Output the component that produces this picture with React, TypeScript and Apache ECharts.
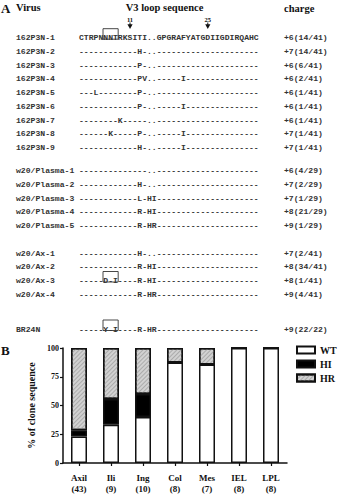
import React, { useEffect, useRef } from "react";
import * as echarts from "echarts";

// ---------- Panel A data ----------
const virusNames = [
  "162P3N-1", "162P3N-2", "162P3N-3", "162P3N-4", "162P3N-5", "162P3N-6", "162P3N-7", "162P3N-8", "162P3N-9",
  "w20/Plasma-1", "w20/Plasma-2", "w20/Plasma-3", "w20/Plasma-4", "w20/Plasma-5",
  "w20/Ax-1", "w20/Ax-2", "w20/Ax-3", "w20/Ax-4",
  "BR24N",
];
const sequences = [
  "CTRPNNNTRKSITI..GPGRAFYATGDIIGDIRQAHC",
  "------------H-..---------------------",
  "------------P-..---------------------",
  "------------PV..-----I---------------",
  "---L--------P-..---------------------",
  "------------P-..-----I---------------",
  "--------K-----..---------------------",
  "------K-----P-..-----I---------------",
  "------------H-..-----I---------------",
  "--------------..---------------------",
  "------------H-..---------------------",
  "------------L-HI---------------------",
  "------------R-HI---------------------",
  "------------R-HR---------------------",
  "------------H-..---------------------",
  "------------R-HI---------------------",
  "-----D-I----R-HI---------------------",
  "------------R-HR---------------------",
  "-----Y-I----R-HR---------------------",
];
const charges = [
  "+6(14/41)", "+7(14/41)", "+6(6/41)", "+6(2/41)", "+6(1/41)", "+6(1/41)", "+6(1/41)", "+7(1/41)", "+7(1/41)",
  "+6(4/29)", "+7(2/29)", "+7(1/29)", "+8(21/29)", "+9(1/29)",
  "+7(2/41)", "+8(34/41)", "+8(1/41)", "+9(4/41)",
  "+9(22/22)",
];
const groupSizes = [9, 5, 4, 1];
// boxed residues: [row, first char index, last char index]
const boxedSpans = [
  [0, 5, 7],
  [16, 5, 7],
  [18, 5, 7],
];
// position markers: [label, char index]
const markers: [string, number][] = [
  ["11", 10],
  ["25", 26],
];

// ---------- Panel B data ----------
const categories = ["Axil\n(43)", "Ili\n(9)", "Ing\n(10)", "Col\n(8)", "Mes\n(7)", "IEL\n(8)", "LPL\n(8)"];
const wtValues = [23, 33.3, 40, 87.5, 85.7, 100, 100];
const hiValues = [5.5, 22.3, 20, 0, 0, 0, 0];
const hrValues = [71.5, 44.4, 40, 12.5, 14.3, 0, 0];
const yTicks = [0, 25, 50, 75, 100];

const SERIF = '"Liberation Serif", "Times New Roman", serif';
const MONO = '"Liberation Mono", "Courier New", monospace';

function buildGraphics() {
  const els: any[] = [];
  const nameX = 16;
  const seqX = 79;
  const chargeX = 284;
  const charW = 4.86;
  const seqFontSize = 8.1;
  const groupStartY = [37.7, 170.5, 253, 329];
  const rowPitch = 13.75;
  const rowY: number[] = [];
  let r = 0;
  groupSizes.forEach((n, g) => {
    for (let i = 0; i < n; i++) {
      rowY[r++] = groupStartY[g] + i * rowPitch;
    }
  });

  const headerStyle = (text: string, x: number, y: number, size: number, align = "left") => ({
    type: "text",
    style: {
      text,
      x,
      y,
      fontFamily: SERIF,
      fontWeight: "bold",
      fontSize: size,
      fill: "#111",
      align,
      verticalAlign: "middle",
    },
  });

  els.push(headerStyle("A", 1, 8, 13));
  els.push(headerStyle("Virus", 16, 7.5, 10.5));
  els.push(headerStyle("V3 loop sequence", 164.5, 7.5, 10.5, "center"));
  els.push(headerStyle("charge", 284, 8, 10.5));
  els.push(headerStyle("B", 1, 350, 13));

  markers.forEach(([label, idx]) => {
    const x = seqX + (idx + 0.5) * charW;
    els.push(headerStyle(label, x, 19.5, 6.5, "center"));
    els.push({
      type: "line",
      shape: { x1: x, y1: 22.5, x2: x, y2: 25 },
      style: { stroke: "#111", lineWidth: 1 },
    });
    els.push({
      type: "polygon",
      shape: { points: [[x - 2.6, 24.2], [x + 2.6, 24.2], [x, 29]] },
      style: { fill: "#111" },
    });
  });

  for (let i = 0; i < virusNames.length; i++) {
    const y = rowY[i];
    const base = {
      fontFamily: MONO,
      fontWeight: "bold",
      fontSize: seqFontSize,
      fill: "#333",
      verticalAlign: "middle",
      align: "left",
    };
    els.push({ type: "text", style: { ...base, text: virusNames[i], x: nameX, y } });
    els.push({ type: "text", style: { ...base, text: sequences[i], x: seqX, y } });
    els.push({ type: "text", style: { ...base, text: charges[i], x: chargeX, y } });
  }

  boxedSpans.forEach(([row, a, b]) => {
    const y = rowY[row];
    els.push({
      type: "rect",
      shape: { x: seqX + a * charW - 0.3, y: y - 9, width: (b - a + 1) * charW + 0.6, height: 10.5 },
      style: { fill: "none", stroke: "#333", lineWidth: 0.9 },
    });
  });

  return els;
}

export default function App() {
  const ref = useRef<HTMLDivElement>(null);
  useEffect(() => {
    if (!ref.current) return;
    const chart = echarts.init(ref.current, null, { renderer: "svg" });
    const barBase = {
      type: "bar",
      stack: "total",
      barWidth: 16,
    };
    chart.setOption({
      animation: false,
      backgroundColor: "#ffffff",
      graphic: { elements: buildGraphics() },
      legend: {
        left: 296,
        top: 345,
        padding: 0,
        orient: "vertical",
        itemWidth: 18,
        itemHeight: 7,
        itemGap: 4,
        icon: "rect",
        textStyle: { fontFamily: SERIF, fontWeight: "bold", fontSize: 10, color: "#111" },
        data: ["WT", "HI", "HR"],
      },
      grid: { left: 63, top: 348, width: 224, height: 124 },
      xAxis: {
        type: "category",
        data: categories,
        axisLine: { show: true, lineStyle: { color: "#111", width: 1.5 } },
        axisTick: { show: true, alignWithLabel: true, length: 3, lineStyle: { color: "#111", width: 1.2 } },
        axisLabel: {
          fontFamily: SERIF,
          fontWeight: "bold",
          fontSize: 9,
          color: "#111",
          lineHeight: 11,
          margin: 9,
        },
      },
      yAxis: {
        type: "value",
        min: yTicks[0],
        max: yTicks[yTicks.length - 1],
        interval: 25,
        name: "% of clone sequence",
        nameLocation: "middle",
        nameRotate: 90,
        nameGap: 21,
        nameTextStyle: { fontFamily: SERIF, fontWeight: "bold", fontSize: 10, color: "#111" },
        axisLine: { show: true, lineStyle: { color: "#111", width: 1.5 } },
        axisTick: { show: true, length: 3, lineStyle: { color: "#111", width: 1.2 } },
        splitLine: { show: false },
        axisLabel: { fontFamily: SERIF, fontWeight: "bold", fontSize: 8, color: "#111", margin: 4 },
      },
      series: [
        {
          ...barBase,
          name: "WT",
          data: wtValues,
          itemStyle: { color: "#ffffff", borderColor: "#111", borderWidth: 1.5 },
        },
        {
          ...barBase,
          name: "HI",
          data: hiValues,
          itemStyle: { color: "#000000", borderColor: "#111", borderWidth: 1.5 },
        },
        {
          ...barBase,
          name: "HR",
          data: hrValues,
          itemStyle: {
            color: "#d2d2d2",
            borderColor: "#111",
            borderWidth: 1.5,
            decal: {
              symbol: "rect",
              symbolSize: 1,
              color: "#ababab",
              dashArrayX: [1, 0],
              dashArrayY: [1, 1.5],
              rotation: -Math.PI / 4,
            },
          },
        },
      ],
    });
    return () => chart.dispose();
  }, []);
  return (
    <div
      ref={ref}
      style={{ position: "fixed", left: 0, top: 0, width: 338, height: 494, background: "#fff" }}
    />
  );
}
